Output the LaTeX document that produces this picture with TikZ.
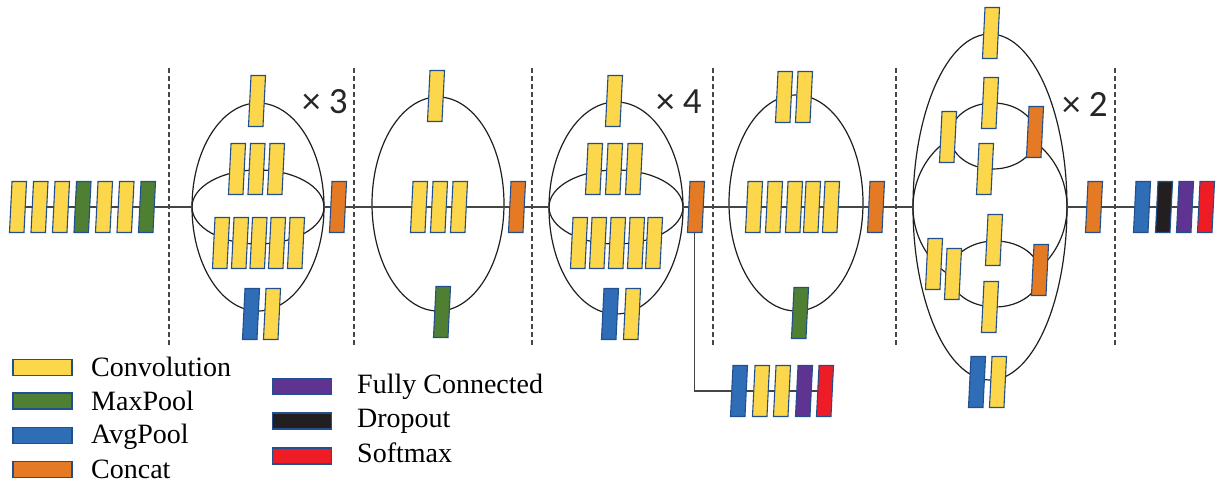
\documentclass[tikz,border=0pt]{standalone}
\usepackage{fontspec}
\setmainfont{Liberation Serif}
\newfontfamily\numfont{Carlito}
\usetikzlibrary{shapes.geometric}

\definecolor{yel}{HTML}{FCD64B}
\definecolor{grn}{HTML}{4F7F33}
\definecolor{blu}{HTML}{2F6DB6}
\definecolor{org}{HTML}{E57A24}
\definecolor{pur}{HTML}{5E3391}
\definecolor{drk}{HTML}{231F20}
\definecolor{rd}{HTML}{EE1D25}
\definecolor{bord}{HTML}{22508E}
\definecolor{wirec}{HTML}{454545}

\pgfdeclarelayer{bg}
\pgfdeclarelayer{mid}
\pgfsetlayers{bg,mid,main}

\tikzset{
  blk/.style={draw=bord, line width=1.1pt, minimum width=14.5pt, minimum height=51pt,
              inner sep=0pt, outer sep=0pt, xslant=0.05},
  conv/.style={blk, fill=yel},
  maxp/.style={blk, fill=grn},
  avgp/.style={blk, fill=blu},
  cat/.style={blk, fill=org},
  fc/.style={blk, fill=pur},
  drop/.style={blk, fill=drk},
  smax/.style={blk, fill=rd},
  wire/.style={draw=wirec, line width=1.4pt},
  ell/.style={ellipse, draw=black!88, line width=1.2pt, inner sep=0pt, outer sep=0pt},
  sep/.style={draw=black!72, line width=1.2pt, dash pattern=on 5pt off 3pt},
  key/.style={draw=bord, line width=1.1pt, minimum width=59pt, minimum height=16pt, inner sep=0pt},
  keytxt/.style={anchor=base west, inner sep=0pt, font=\fontsize{28}{32}\selectfont},
  times/.style={anchor=base west, inner sep=0pt, font=\numfont\fontsize{37}{40}\selectfont, text=black!85},
}

\begin{document}
\begin{tikzpicture}[x=1pt, y=-1pt]
\useasboundingbox (0,0) rectangle (1216,486);

% ---------- stem ----------
\node[conv] (s1) at (18,207) {};
\node[conv] (s2) at (39.5,207) {};
\node[conv] (s3) at (61,207) {};
\node[maxp] (s4) at (82.5,207) {};
\node[conv] (s5) at (104,207) {};
\node[conv] (s6) at (125.5,207) {};
\node[maxp] (s7) at (147,207) {};

% ---------- module A (x3) ----------
\node[conv] (a0) at (257,101) {};
\node[conv] (a1) at (237,169) {};
\node[conv] (a2) at (256.5,169) {};
\node[conv] (a3) at (276,169) {};
\node[conv] (a4) at (221,243) {};
\node[conv] (a5) at (240,243) {};
\node[conv] (a6) at (258.5,243) {};
\node[conv] (a7) at (277,243) {};
\node[conv] (a8) at (296,243) {};
\node[avgp] (a9) at (251,314) {};
\node[conv] (a10) at (272,314) {};
\node[cat] (oA) at (338,207) {};

% ---------- reduction B ----------
\node[conv] (b0) at (436,96) {};
\node[conv] (b1) at (419,207) {};
\node[conv] (b2) at (439,207) {};
\node[conv] (b3) at (459,207) {};
\node[maxp] (b4) at (442,312) {};
\node[cat] (oB) at (517,207) {};

% ---------- module C (x4) ----------
\node[conv] (c0) at (614,101) {};
\node[conv] (c1) at (594,169) {};
\node[conv] (c2) at (614,169) {};
\node[conv] (c3) at (634,169) {};
\node[conv] (c4) at (579,243) {};
\node[conv] (c5) at (598,243) {};
\node[conv] (c6) at (617,243) {};
\node[conv] (c7) at (636,243) {};
\node[conv] (c8) at (654,243) {};
\node[avgp] (c9) at (610,314) {};
\node[conv] (c10) at (632,314) {};
\node[cat] (oC) at (696,207) {};

% ---------- auxiliary head ----------
\node[avgp] (x1) at (739,391) {};
\node[conv] (x2) at (761,391) {};
\node[conv] (x3) at (782,391) {};
\node[fc]   (x4) at (804,391) {};
\node[smax] (x5) at (825,391) {};

% ---------- reduction D ----------
\node[conv] (d0) at (784,97) {};
\node[conv] (d1) at (804,97) {};
\node[conv] (d2) at (754,207) {};
\node[conv] (d3) at (774,207) {};
\node[conv] (d4) at (794,207) {};
\node[conv] (d5) at (812,207) {};
\node[conv] (d6) at (831,207) {};
\node[maxp] (d7) at (800,313) {};
\node[cat] (oD) at (876,207) {};

% ---------- module E (x2) ----------
\node[conv] (e0) at (991,33) {};
\node[conv] (e1) at (948,137) {};
\node[conv] (e2) at (990,103) {};
\node[conv] (e3) at (985,169) {};
\node[cat]  (e4) at (1035,132) {};
\node[conv] (e5) at (934,264) {};
\node[conv] (e6) at (953,274) {};
\node[conv] (e7) at (994,240) {};
\node[conv] (e8) at (990,307) {};
\node[cat]  (e9) at (1040,270) {};
\node[avgp] (e10) at (977,382) {};
\node[conv] (e11) at (998,382) {};
\node[cat] (oE) at (1094,207) {};

% ---------- classifier ----------
\node[avgp] (f1) at (1142,207) {};
\node[drop] (f2) at (1164,207) {};
\node[fc]   (f3) at (1185,207) {};
\node[smax] (f4) at (1206,207) {};

% ---------- branch outlines ----------
\begin{pgfonlayer}{bg}
  \node[ell, minimum width=132pt, minimum height=208pt] (mA) at (258,207) {};
  \node[ell, minimum width=132pt, minimum height=74pt]  (iA) at (258,207) {};
  \node[ell, minimum width=132pt, minimum height=214pt] (mB) at (438,204) {};
  \node[ell, minimum width=134pt, minimum height=212pt] (mC) at (616,208) {};
  \node[ell, minimum width=134pt, minimum height=74pt]  (iC) at (616,207) {};
  \node[ell, minimum width=134pt, minimum height=216pt] (mD) at (796,203) {};
  \node[ell, minimum width=154pt, minimum height=346pt] (mE) at (990,207) {};
  \node[ell, minimum width=154pt, minimum height=160pt] (iE) at (990,207) {};

  % main data path
  \draw[wire] (s1.center) -- (s7.center) -- (s7.center -| mA.west);
  \draw[wire] (mA.east |- oA.center) -- (oA.center) -- (oA.center -| mB.west);
  \draw[wire] (mB.west |- oB.center) -- (oB.center) -- (oB.center -| mC.west);
  \draw[wire] (mC.east |- oC.center) -- (oC.center) -- (oC.center -| mD.west);
  \draw[wire] (mD.west |- oD.center) -- (oD.center) -- (oD.center -| mE.west);
  \draw[wire] (mE.east |- oE.center) -- (oE.center) -- (f4.center);
  % auxiliary branch
  \draw[wire] (oC.south) |- (x5.center);

  % stage separators
  \foreach \xs in {169,354,532,713,896,1115}
    \draw[sep] (\xs,68) -- (\xs,345);
\end{pgfonlayer}

\begin{pgfonlayer}{mid}
  \node[ell, fill=white, minimum width=86pt, minimum height=66pt] (uE) at (993,136) {};
  \node[ell, fill=white, minimum width=90pt, minimum height=66pt] (lE) at (995,274) {};
\end{pgfonlayer}

% ---------- repeat counts ----------
\node[times] (rA) at (302,114) {× 3};
\node[times] (rC) at (656,114) {× 4};
\node[times] (rE) at (1062,117) {× 2};

% ---------- legend ----------
\node[key, fill=yel] (k1) at (42.5,367.5) {};
\node[key, fill=grn] (k2) at (42.5,401) {};
\node[key, fill=blu] (k3) at (42.5,435.5) {};
\node[key, fill=org] (k4) at (42.5,469.5) {};
\node[keytxt] (t1) at (91,377) {Convolution};
\node[keytxt] (t2) at (91,410) {MaxPool};
\node[keytxt] (t3) at (91,443.5) {AvgPool};
\node[keytxt] (t4) at (91,478) {Concat};

\node[key, fill=pur] (k5) at (302,386.5) {};
\node[key, fill=drk] (k6) at (302,421) {};
\node[key, fill=rd]  (k7) at (302,456) {};
\node[keytxt] (t5) at (357,393) {Fully Connected};
\node[keytxt] (t6) at (357,428) {Dropout};
\node[keytxt] (t7) at (357,462) {Softmax};
\end{tikzpicture}
\end{document}
